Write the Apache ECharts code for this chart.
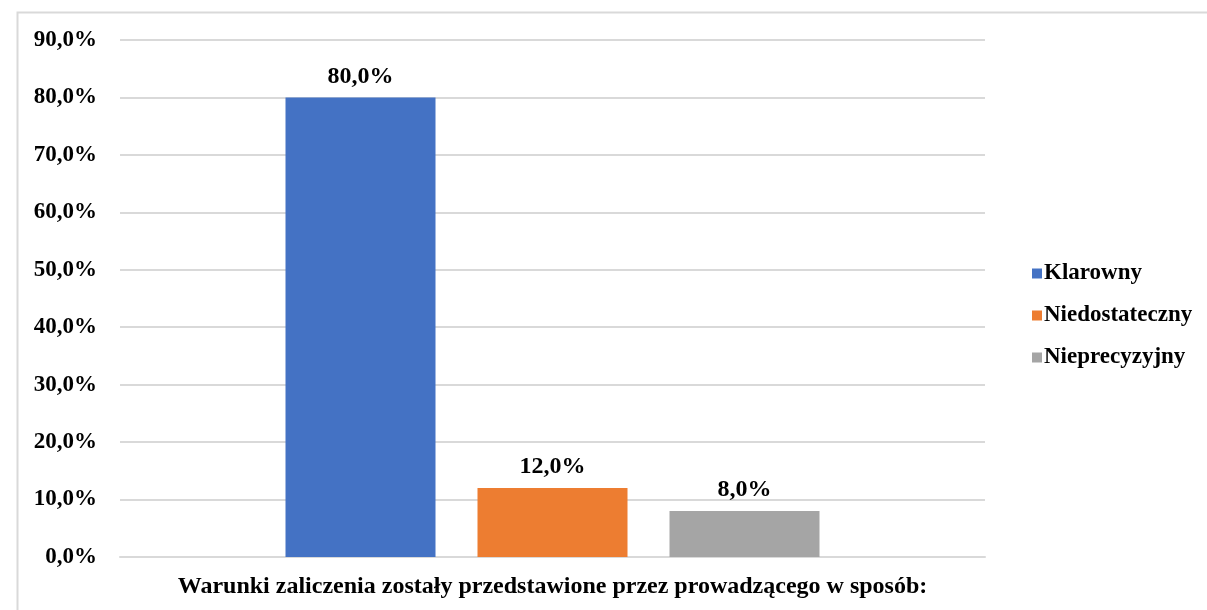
<!DOCTYPE html>
<html><head><meta charset="utf-8">
<script src="https://cdn.jsdelivr.net/npm/echarts@6/dist/echarts.min.js"></script>
<style>html,body{margin:0;padding:0;background:#fff}#c{width:1207px;height:610px}</style>
</head><body><div id="c"></div>
<script>
const categories = ['Warunki zaliczenia zostały przedstawione przez prowadzącego w sposób:'];
const seriesNames = ['Klarowny', 'Niedostateczny', 'Nieprecyzyjny'];
const klarowny = [80.0];
const niedostateczny = [12.0];
const nieprecyzyjny = [8.0];
const colors = ['#4472C4', '#ED7D31', '#A5A5A5'];
const values = [klarowny, niedostateczny, nieprecyzyjny];
const fontFam = '"Liberation Serif", "Times New Roman", serif';
const fmt = v => v.toFixed(1).replace('.', ',') + '%';

const chart = echarts.init(document.getElementById('c'));
chart.setOption({
  animation: false,
  textStyle: { fontFamily: fontFam },
  graphic: [{
    type: 'rect', left: 15, top: 10, shape: { width: 1250, height: 650 },
    style: { fill: 'none', stroke: '#d9d9d9', lineWidth: 2 }, z: -1
  }],
  grid: { left: 120, right: 222, top: 40, bottom: 53 },
  legend: {
    orient: 'vertical', left: 1027, top: 257, itemWidth: 10, itemHeight: 10, itemGap: 19,
    icon: 'rect',
    textStyle: { fontFamily: fontFam, fontWeight: 'bold', fontSize: 23, color: '#000', padding: [0, 0, 0, -3] },
    data: seriesNames
  },
  xAxis: {
    type: 'category', data: categories,
    axisLine: { lineStyle: { color: '#d9d9d9', width: 2 } },
    axisTick: { show: false },
    axisLabel: { fontFamily: fontFam, fontWeight: 'bold', fontSize: 24, color: '#000', margin: 18 }
  },
  yAxis: {
    type: 'value', min: 0, max: 90, interval: 10,
    axisLine: { show: false }, axisTick: { show: false },
    splitLine: { lineStyle: { color: '#d9d9d9', width: 2 } },
    axisLabel: { fontFamily: fontFam, fontWeight: 'bold', fontSize: 23, color: '#000', margin: 23, formatter: fmt }
  },
  series: seriesNames.map((n, i) => ({
    name: n, type: 'bar', data: values[i], barWidth: 150, barGap: '28%',
    itemStyle: { color: colors[i] },
    label: {
      show: true, position: 'top', distance: 9, formatter: p => fmt(p.value),
      fontFamily: fontFam, fontWeight: 'bold', fontSize: 24, color: '#000'
    }
  }))
});
</script></body></html>
